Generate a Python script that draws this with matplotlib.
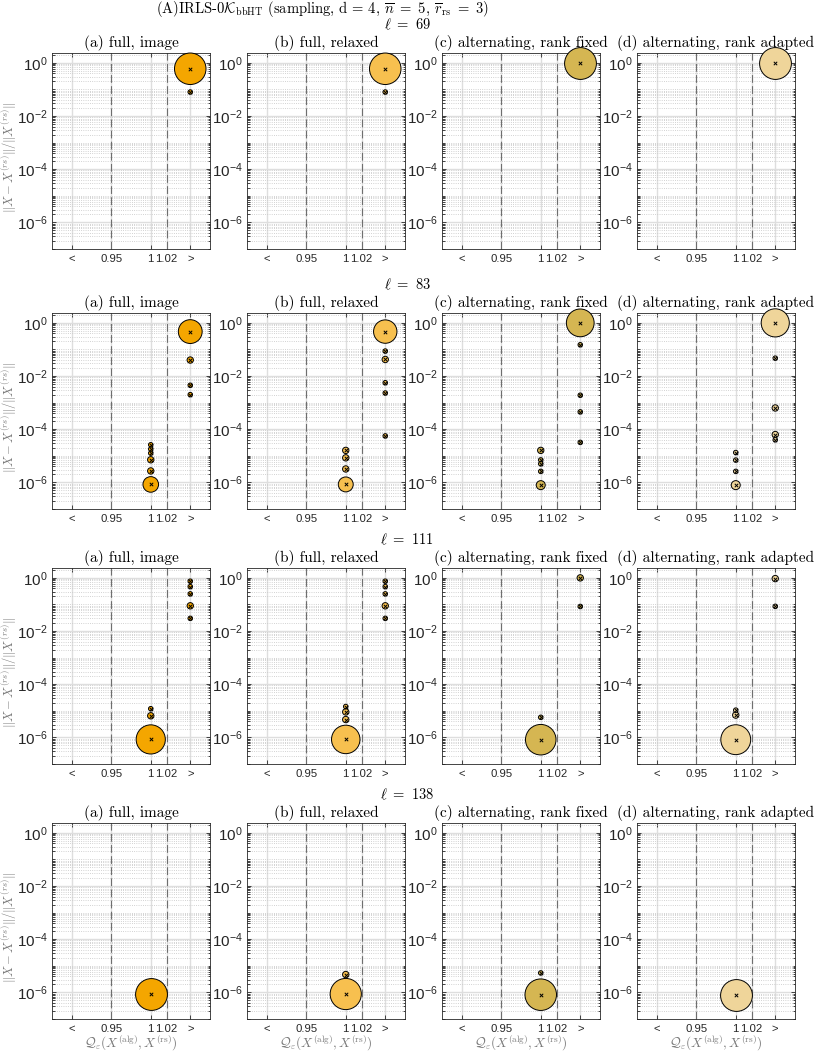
import numpy as np
import matplotlib
matplotlib.use("Agg")
import matplotlib.pyplot as plt
from matplotlib.ticker import FixedLocator, FuncFormatter, NullFormatter

# x: quality ratio (0.9 stands for "<", 1.05 for ">"), y: relative error, n: number of runs
ells = [69, 83, 111, 138]
panel_titles = ["(a) full, image", "(b) full, relaxed",
                "(c) alternating, rank fixed", "(d) alternating, rank adapted"]
colors = ["#F4A600", "#F7C04F", "#D5B652", "#EFD59A"]

# ell = 69
q69a = [1.05, 1.05]; e69a = [0.6, 0.08]; n69a = [49, 1]
q69b = [1.05, 1.05]; e69b = [0.6, 0.08]; n69b = [49, 1]
q69c = [1.05]; e69c = [1.0]; n69c = [50]
q69d = [1.05]; e69d = [1.0]; n69d = [50]

# ell = 83
q83a = [1.05, 1.05, 1.05, 1.05, 1, 1, 1, 1, 1, 1]
e83a = [0.47, 0.04, 0.0045, 0.002, 8.4e-7, 2.7e-6, 7.1e-6, 1.26e-5, 1.8e-5, 2.6e-5]
n83a = [28, 2, 1, 1, 12, 2, 2, 1, 1, 1]
q83b = [1.05, 1.05, 1.05, 1.05, 1.05, 1.05, 1, 1, 1, 1]
e83b = [0.47, 0.087, 0.042, 0.0056, 0.0023, 5.6e-5, 8.4e-7, 3.2e-6, 8.4e-6, 1.6e-5]
n83b = [27, 1, 2, 1, 1, 1, 11, 2, 2, 2]
q83c = [1.05, 1.05, 1.05, 1.05, 1.05, 1, 1, 1, 1, 1]
e83c = [1.0, 0.15, 0.0019, 4.5e-4, 3.2e-5, 7.9e-7, 1.6e-5, 7e-6, 5e-6, 2.6e-6]
n83c = [38, 1, 1, 1, 1, 4, 2, 1, 1, 1]
q83d = [1.05, 1.05, 1.05, 1.05, 1.05, 1, 1, 1, 1]
e83d = [1.0, 0.047, 6.3e-4, 6.3e-5, 4e-5, 7.9e-7, 1.33e-5, 6.9e-6, 2.6e-6]
n83d = [39, 1, 2, 2, 1, 4, 1, 1, 1]

# ell = 111
q111a = [1.05, 1.05, 1.05, 1.05, 1.05, 1, 1, 1]
e111a = [0.75, 0.47, 0.25, 0.089, 0.03, 8.4e-7, 1.2e-5, 6.5e-6]
n111a = [1, 1, 1, 2, 1, 42, 1, 2]
q111b = [1.05, 1.05, 1.05, 1.05, 1.05, 1, 1, 1, 1]
e111b = [0.75, 0.47, 0.25, 0.089, 0.03, 8.4e-7, 1.45e-5, 9.1e-6, 4.7e-6]
n111b = [1, 1, 1, 2, 1, 40, 1, 2, 2]
q111c = [1.05, 1.05, 1, 1]; e111c = [1.0, 0.084, 8.2e-7, 5.7e-6]; n111c = [2, 1, 46, 1]
q111d = [1.05, 1.05, 1, 1, 1]; e111d = [0.94, 0.085, 8.2e-7, 1.06e-5, 6.9e-6]
n111d = [2, 1, 44, 1, 2]

# ell = 138
q138a = [1]; e138a = [8.7e-7]; n138a = [50]
q138b = [1, 1]; e138b = [8.7e-7, 4.7e-6]; n138b = [48, 2]
q138c = [1, 1]; e138c = [8.2e-7, 5.4e-6]; n138c = [49, 1]
q138d = [1]; e138d = [8.2e-7]; n138d = [50]

data = [
    [(q69a, e69a, n69a), (q69b, e69b, n69b), (q69c, e69c, n69c), (q69d, e69d, n69d)],
    [(q83a, e83a, n83a), (q83b, e83b, n83b), (q83c, e83c, n83c), (q83d, e83d, n83d)],
    [(q111a, e111a, n111a), (q111b, e111b, n111b), (q111c, e111c, n111c), (q111d, e111d, n111d)],
    [(q138a, e138a, n138a), (q138b, e138b, n138b), (q138c, e138c, n138c), (q138d, e138d, n138d)],
]

xticks = [0.9, 0.95, 1.0, 1.02, 1.05]
xticklabels = ["<", "0.95", "1", "1.02", ">"]

plt.rcParams["font.family"] = "Liberation Sans"
plt.rcParams["mathtext.fontset"] = "custom"
plt.rcParams["mathtext.rm"] = "Liberation Sans"
plt.rcParams["mathtext.it"] = "Liberation Sans:italic"
plt.rcParams["mathtext.bf"] = "Liberation Sans:bold"

W, H = 814, 1054
fig = plt.figure(figsize=(W / 100, H / 100), dpi=100)

lefts = [52, 247, 442, 637]
tops = [53, 313, 568, 823]
aw, ah = 158, 196
grey_txt = "#262626"
lab_col = "#7a7a7a"

minor_y = [k * 10.0 ** p for p in range(-8, 1) for k in range(1, 10)
           if not (k == 1 and p % 2 == 0)]

fig.text(322 / W, 1 - 9 / H,
         r"(A)IRLS-0$\mathcal{K}_{\mathrm{bbHT}}$ (sampling, d = 4, $\overline{n}\ =\ 5$, $\overline{r}_{\mathrm{rs}}\ =\ 3$)",
         ha="center", va="center", fontsize=10.5, family="cmr10", math_fontfamily="cm")

for r in range(4):
    fig.text(407 / W, 1 - (tops[r] - 28) / H, r"$\ell\ =\ %d$" % ells[r],
             ha="center", va="center", fontsize=10.5, math_fontfamily="cm")
    fig.text(9 / W, 1 - (tops[r] + ah / 2 + 7) / H, r"$\|X - X^{(rs)}\|/\|X^{(rs)}\|$",
             rotation=90, ha="center", va="center", fontsize=9, color=lab_col,
             math_fontfamily="cm")
    for c in range(4):
        ax = fig.add_axes([lefts[c] / W, 1 - (tops[r] + ah) / H, aw / W, ah / H])
        ax.set_yscale("log")
        ax.set_xlim(0.875, 1.075)
        ax.set_ylim(1e-7, 2.35)

        ax.set_xticks(xticks)
        ax.set_xticklabels(xticklabels)
        ax.yaxis.set_major_locator(FixedLocator([1e-6, 1e-4, 1e-2, 1.0]))
        ax.yaxis.set_major_formatter(FuncFormatter(
            lambda v, p: r"$\mathdefault{10^{%d}}$" % int(round(np.log10(v)))))
        ax.yaxis.set_minor_locator(FixedLocator(minor_y))
        ax.yaxis.set_minor_formatter(NullFormatter())

        ax.tick_params(axis="both", which="both", direction="in", top=True, right=True,
                       colors=grey_txt, width=0.6)
        ax.tick_params(axis="both", which="major", length=3)
        ax.tick_params(axis="y", which="minor", length=1.8)
        ax.tick_params(axis="x", labelsize=8.2, pad=3.5)
        ax.tick_params(axis="y", labelsize=11, pad=3)
        for sp in ax.spines.values():
            sp.set_color(grey_txt)
            sp.set_linewidth(0.6)

        ax.grid(True, which="major", color="#dedede", linewidth=1.0, zorder=0)
        ax.grid(True, which="minor", axis="y", color="#c4c4c4", linestyle=":",
                linewidth=0.6, zorder=0)
        for xv in [0.95, 1.02]:
            ax.axvline(xv, color="#6e6e6e", linestyle=(0, (7, 3)), linewidth=0.8, zorder=1)
        ax.set_axisbelow(True)

        q, e, n = data[r][c]
        q = np.array(q, float)
        e = np.array(e, float)
        n = np.array(n, float)
        order = np.argsort(-n)
        ax.scatter(q[order], e[order], s=10.5 * n[order], c=colors[c], edgecolors="k",
                   linewidths=0.7, zorder=3, clip_on=False)
        ax.scatter(q, e, marker="x", s=6, c="k", linewidths=0.7, zorder=4, clip_on=False)

        ax.text(0.5, 1 + 10 / ah, panel_titles[c], transform=ax.transAxes,
                ha="center", va="center", fontsize=11, family="cmr10")

        if r == 3:
            ax.set_xlabel(r"$\mathcal{Q}_\varepsilon(X^{(\mathrm{alg})}, X^{(\mathrm{rs})})$",
                          fontsize=9.5, color=lab_col, math_fontfamily="cm", labelpad=0)

fig.savefig("out.png", dpi=100)
